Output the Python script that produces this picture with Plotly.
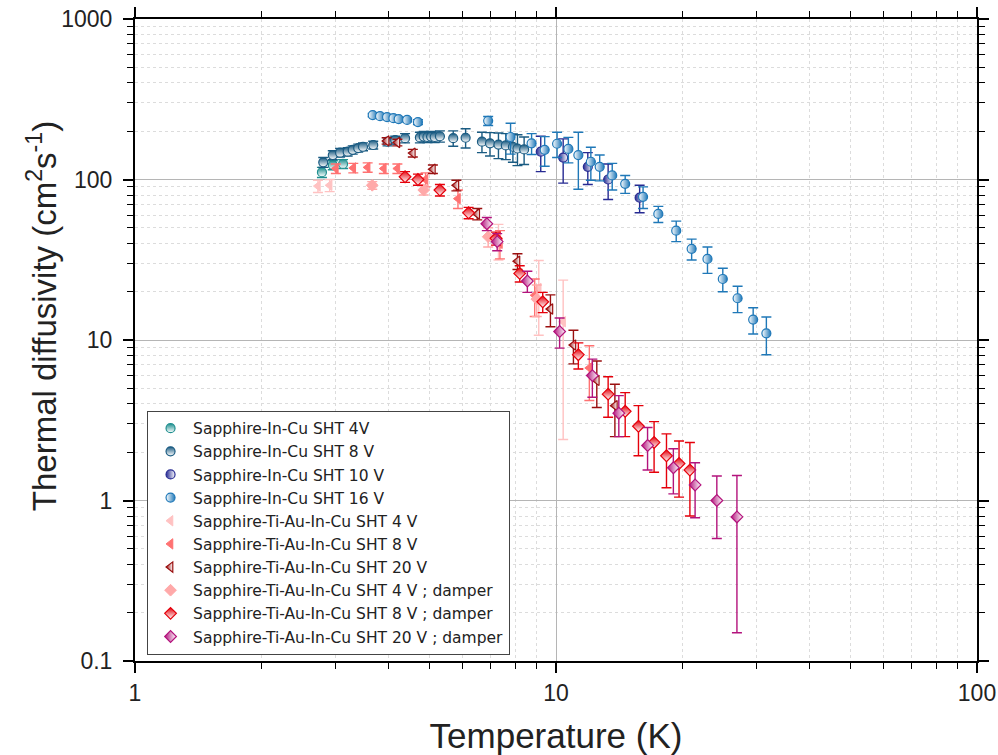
import plotly.graph_objects as go

# ---------------- data ----------------
# Sapphire-In-Cu SHT 4V
t_a = [2.78, 2.95, 3.12]
d_a = [111, 123, 125]
e_a = [8, 8, 8]

# Sapphire-In-Cu SHT 8 V
t_b = [2.8, 2.95, 3.07, 3.2, 3.29, 3.39, 3.48, 3.68, 3.98, 4.15, 4.38, 4.75, 4.85, 4.95,
       5.05, 5.15, 5.3, 5.7, 6.1, 6.67, 6.97, 7.3, 7.6, 7.9, 8.1, 8.4]
d_b = [128, 142, 147, 149, 153, 157, 160, 164, 172, 176, 181, 183, 185, 184,
       185, 184, 186, 181, 182, 172, 168, 165, 163, 160, 156, 154]
e_b = [9, 9, 9, 9, 9, 9, 9, 9, 10, 10, 12, 14, 14, 14,
       14, 14, 15, 20, 25, 25, 28, 30, 30, 32, 34, 30]

# Sapphire-In-Cu SHT 10 V
t_c = [9.2, 10.4, 11.9, 13.3, 15.8]
d_c = [149, 137, 120, 100, 77]
e_c = [37, 42, 27, 25, 15]

# Sapphire-In-Cu SHT 16 V
t_d = [3.67, 3.82, 3.97, 4.11, 4.23, 4.43, 4.7, 6.9, 7.8, 8.75, 9.4, 10.06, 10.7, 11.3,
       12.1, 12.7, 13.6, 14.6, 16.1, 17.5, 19.3, 21.0, 22.9, 24.9, 27.0, 29.4, 31.6]
d_d = [252, 248, 245, 241, 238, 235, 228, 232, 184, 168, 153, 167, 155, 142,
       129, 120, 106, 94, 78, 61, 48, 37, 32, 24, 18.2, 13.4, 11.0]
e_d = [6, 6, 6, 6, 6, 6, 8, 15, 40, 25, 32, 30, 28, 55,
       30, 22, 20, 12, 12, 7, 7, 5.5, 6, 4, 3.4, 2.5, 2.9]

# Sapphire-Ti-Au-In-Cu SHT 4 V
t_e = [2.72, 2.9, 7.3, 9.1, 10.4]
d_e = [91, 92, 42, 21, 13]
e_e = [8, 8, 10.5, 10.3, 10.6]

# Sapphire-Ti-Au-In-Cu SHT 8 V
t_f = [3.0, 3.3, 3.57, 3.9, 4.2, 4.9, 5.85, 7.36, 8.9, 12.0]
d_f = [117, 118, 119, 117, 117, 100, 76, 40, 19, 6.7]
e_f = [8, 8, 8, 8, 8, 10, 10, 8, 5, 2.5]

# Sapphire-Ti-Au-In-Cu SHT 20 V
t_g = [3.96, 4.2, 4.57, 5.1, 5.8, 6.5, 8.1, 9.7, 11.0, 12.5, 13.8]
d_g = [174, 170, 146, 116, 92, 61, 31, 15.6, 9.3, 5.6, 3.9]
e_g = [8, 8, 8, 7, 7, 5, 3.5, 3.5, 2.2, 1.8, 1.4]

# Sapphire-Ti-Au-In-Cu SHT 4 V ; damper
t_h = [3.66, 4.85, 6.9, 9.0]
d_h = [92, 86, 44, 18]
e_h = [5, 6, 6, 4]

# Sapphire-Ti-Au-In-Cu SHT 8 V ; damper
t_i = [4.38, 4.7, 5.3, 6.2, 7.2, 8.2, 9.3, 11.3, 13.3, 14.6, 15.7, 17.1, 18.3, 19.6, 20.8]
d_i = [104, 100, 86, 62, 43, 26, 17.3, 8.1, 4.6, 3.6, 2.9, 2.3, 1.9, 1.7, 1.55]
e_i = [8, 8, 7, 5, 4, 3, 2.5, 1.5, 1.3, 1.1, 1.0, 0.8, 0.7, 0.65, 0.75]

# Sapphire-Ti-Au-In-Cu SHT 20 V ; damper
t_j = [6.85, 7.25, 8.55, 10.2, 12.2, 14.1, 16.5, 19.0, 21.4, 24.1, 26.9]
d_j = [53, 41, 23.3, 11.3, 6.0, 3.5, 2.2, 1.6, 1.25, 1.0, 0.79]
e_j = [5, 5, 3.5, 2.4, 1.6, 1.0, 0.65, 0.5, 0.47, 0.42, 0.64]

x_ticks = [1, 10, 100]
x_labels = ["1", "10", "100"]
y_ticks = [0.1, 1, 10, 100, 1000]
y_labels = ["0.1", "1", "10", "100", "1000"]
x_minor = [m * 10 ** k for k in range(0, 2) for m in range(2, 10)]
y_minor = [m * 10.0 ** k for k in range(-1, 3) for m in range(2, 10)]

series = [
    ("Sapphire-In-Cu SHT 4V", t_a, d_a, e_a, "#1f8f8f", "circle", "vertical", False),
    ("Sapphire-In-Cu SHT 8 V", t_b, d_b, e_b, "#1a5b82", "circle", "vertical", False),
    ("Sapphire-In-Cu SHT 10 V", t_c, d_c, e_c, "#262a92", "circle", "horizontal", False),
    ("Sapphire-In-Cu SHT 16 V", t_d, d_d, e_d, "#1f78b8", "circle", "horizontal", True),
    ("Sapphire-Ti-Au-In-Cu SHT 4 V", t_e, d_e, e_e, "#ffc2c2", "triangle-left", None, False),
    ("Sapphire-Ti-Au-In-Cu SHT 8 V", t_f, d_f, e_f, "#ff7272", "triangle-left", None, False),
    ("Sapphire-Ti-Au-In-Cu SHT 20 V", t_g, d_g, e_g, "#9a0f0f", "triangle-left", "horizontal", False),
    ("Sapphire-Ti-Au-In-Cu SHT 4 V ; damper", t_h, d_h, e_h, "#ffa9a9", "diamond", None, False),
    ("Sapphire-Ti-Au-In-Cu SHT 8 V ; damper", t_i, d_i, e_i, "#e5000b", "diamond", "vertical", False),
    ("Sapphire-Ti-Au-In-Cu SHT 20 V ; damper", t_j, d_j, e_j, "#b3137c", "diamond", "horizontal", False),
]

fig = go.Figure()
for name, tx, dy, ey, col, sym, grad, rev in series:
    if grad is None:
        marker = dict(symbol=sym, size=9, color=col, line=dict(color=col, width=1))
    elif rev:
        marker = dict(symbol=sym, size=9, color="white", line=dict(color=col, width=1.2),
                      gradient=dict(type=grad, color=col))
    else:
        marker = dict(symbol=sym, size=9, color=col, line=dict(color=col, width=1.2),
                      gradient=dict(type=grad, color="white"))
    fig.add_trace(go.Scatter(
        x=tx, y=dy, mode="markers", name=name, marker=marker,
        error_y=dict(type="data", array=ey, visible=True, color=col, thickness=1.4, width=5),
    ))

axis_common = dict(
    type="log", showline=True, linecolor="black", linewidth=2, mirror="ticks",
    ticks="outside", ticklen=10, tickwidth=1.5, tickcolor="black",
    showgrid=True, gridcolor="#b5b5b5", gridwidth=1.2,
    tickfont=dict(family="Liberation Sans, Arial", size=23, color="#222"),
    tickmode="array",
)

fig.update_xaxes(
    **axis_common, range=[0, 2], tickvals=x_ticks, ticktext=x_labels,
    minor=dict(tickvals=x_minor, ticks="outside", ticklen=6, tickcolor="black", tickwidth=1.2,
               showgrid=True, gridcolor="#dcdcdc", griddash="dot", gridwidth=1),
    title=dict(text="Temperature (K)", font=dict(family="Liberation Sans, Arial", size=35, color="#222"),
               standoff=24),
)
fig.update_yaxes(
    **axis_common, range=[-1, 3], tickvals=y_ticks, ticktext=y_labels, ticklabelstandoff=6,
    minor=dict(tickvals=y_minor, ticks="outside", ticklen=6, tickcolor="black", tickwidth=1.2,
               showgrid=True, gridcolor="#dcdcdc", griddash="dot", gridwidth=1),
)

fig.add_annotation(
    text="Thermal diffusivity (cm<sup>2</sup>s<sup>-1</sup>)",
    xref="paper", yref="paper", x=-0.1105, y=0.537, xanchor="center", yanchor="middle",
    textangle=-90, showarrow=False,
    font=dict(family="Liberation Sans, Arial", size=33, color="#222"),
)

fig.update_layout(
    width=998, height=755,
    margin=dict(l=135, r=21, t=19, b=94, autoexpand=False),
    paper_bgcolor="white", plot_bgcolor="white",
    showlegend=True,
    legend=dict(x=0.0143, y=0.01, xanchor="left", yanchor="bottom",
                bgcolor="white", bordercolor="#444", borderwidth=1, itemwidth=35,
                font=dict(family="DejaVu Sans", size=15.5, color="#222"),
                tracegroupgap=0),
)

fig.write_html("out.html", config={"displayModeBar": False},
               post_script="document.body.style.margin='0px';document.body.style.overflow='hidden';")
